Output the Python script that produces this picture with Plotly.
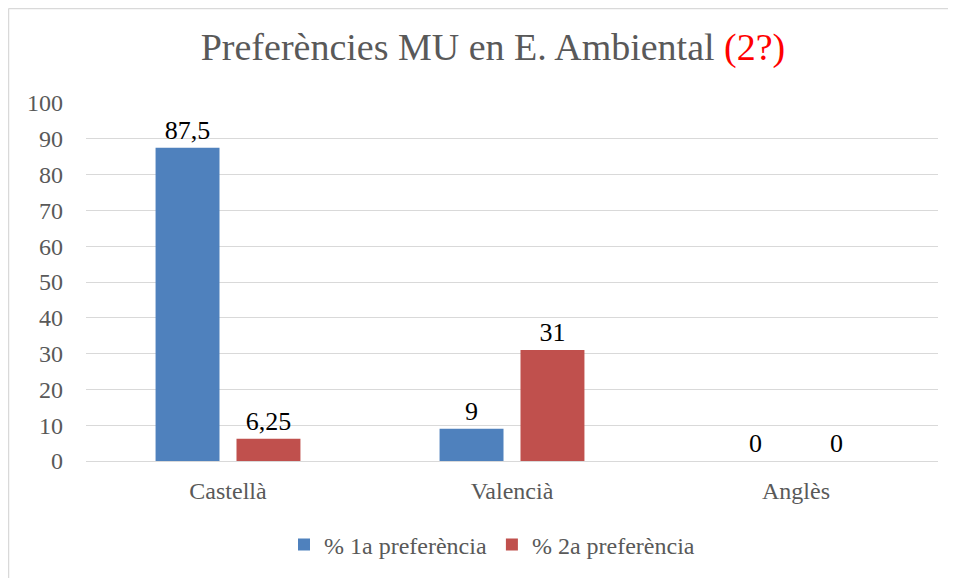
import plotly.graph_objects as go

# dades del gràfic
categories = ["Castellà", "Valencià", "Anglès"]
pref_1a = [87.5, 9, 0]
pref_2a = [6.25, 31, 0]
series_names = ["% 1a preferència", "% 2a preferència"]
y_ticks = [0, 10, 20, 30, 40, 50, 60, 70, 80, 90, 100]

FONT = "Liberation Serif"
BLUE = "#4f81bd"
RED = "#c0504d"
GRID = "#d9d9d9"


def fmt(v):
    # coma decimal com a l'original
    return str(v).replace(".", ",")


fig = go.Figure()
for name, vals, col in zip(series_names, [pref_1a, pref_2a], [BLUE, RED]):
    fig.add_trace(go.Bar(
        x=categories,
        y=vals,
        name=name,
        marker=dict(color=col, line=dict(width=0)),
        text=[fmt(v) for v in vals],
        textposition="outside",
        textfont=dict(family=FONT, size=26, color="#000000"),
        cliponaxis=False,
    ))

# la pàgina té 8px de marge al body, per això es resten
W, H = 956, 578
ml, mr, mt, mb = 78, 26, 95, 125
pw, ph = W - ml - mr, H - mt - mb

# marc del gràfic (només visible a l'esquerra i a dalt)
bx = (0.5 - ml) / pw
by = 1 + (mt - 0.5) / ph
shapes = [
    dict(type="line", xref="paper", yref="paper", x0=bx, x1=bx, y0=-1, y1=by,
         line=dict(color=GRID, width=1.5)),
    dict(type="line", xref="paper", yref="paper", x0=bx, x1=2, y0=by, y1=by,
         line=dict(color=GRID, width=1.5)),
]

fig.update_layout(
    width=W,
    height=H,
    margin=dict(l=ml, r=mr, t=mt, b=mb),
    paper_bgcolor="white",
    plot_bgcolor="white",
    title=dict(
        text="Preferències MU en E. Ambiental <span style='color:#ff0000'>(2?)</span>",
        x=(493 - 8 - ml) / pw, xref="paper", xanchor="center",
        y=1 - 39 / H, yanchor="middle",
        font=dict(family=FONT, size=38, color="#595959"),
    ),
    barmode="group",
    bargap=0.43,
    bargroupgap=0.21,
    yaxis=dict(
        range=[0, 100],
        tickvals=y_ticks,
        showgrid=True,
        gridcolor=GRID,
        gridwidth=1,
        zeroline=True,
        zerolinecolor=GRID,
        zerolinewidth=1,
        tickfont=dict(family=FONT, size=24, color="#595959"),
        ticklabelstandoff=22,
    ),
    xaxis=dict(
        showline=False,
        tickfont=dict(family=FONT, size=24, color="#595959"),
        ticklabelstandoff=13,
    ),
    legend=dict(
        orientation="h",
        x=(492 - 8 - ml) / pw, xanchor="center",
        y=(H - mb - 537) / ph, yanchor="middle",
        font=dict(family=FONT, size=24, color="#595959"),
        itemwidth=30,
    ),
    shapes=shapes,
    showlegend=True,
)

fig.write_html("out.html")
